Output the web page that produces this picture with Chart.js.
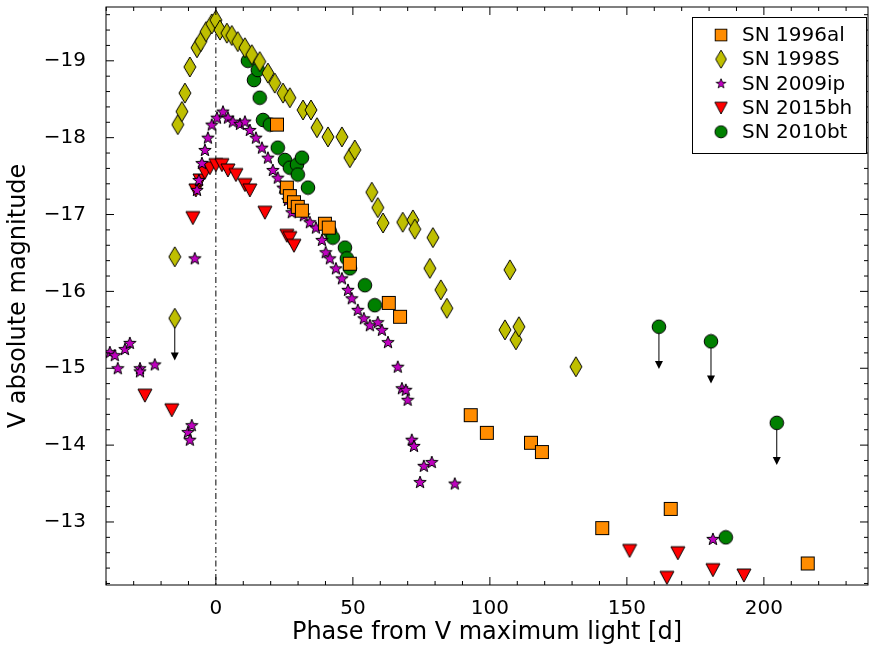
<!DOCTYPE html>
<html>
<head>
<meta charset="utf-8">
<script src="https://cdn.jsdelivr.net/npm/chart.js@4.4.0/dist/chart.umd.min.js"></script>
<style>
  html, body { margin: 0; padding: 0; background: #fff; overflow: hidden; }
  #wrap { width: 870px; height: 651px; overflow: hidden; position: relative; }
  #c { position: absolute; left: 0; top: -17px; }
</style>
</head>
<body>
<div id="wrap"><canvas id="c" width="876" height="668"></canvas></div>
<script>
// phase [d], V absolute magnitude
const sn1996alX = [22.3, 25.9, 27, 28.5, 29.9, 31.4, 39.8, 41.2, 48.9, 63.1, 67.2, 93, 98.9, 115, 119, 141, 166, 216];
const sn1996alY = [-18.17, -17.35, -17.24, -17.16, -17.1, -17.05, -16.88, -16.83, -16.36, -15.85, -15.67, -14.39, -14.16, -14.03, -13.91, -12.92, -13.17, -12.46];

const sn1998sX = [-15, -13.9, -12.4, -11.3, -9.5, -6.9, -5.5, -3.6, -1.5, 0, 1.5, 4, 5.8, 8, 10.6, 13.1, 16, 19, 21.5, 24.5, 27, 31.8, 34.7, 36.9, 40.9, 46, 48.9, 50.7, 56.9, 59.1, 61, 68.2, 71.9, 72.6, 79.2, 78.1, 82.1, 84.3, 105.5, 107.3, 109.5, 110.6, 131.4];
const sn1998sY = [-16.45, -18.17, -18.34, -18.58, -18.92, -19.17, -19.25, -19.38, -19.48, -19.53, -19.4, -19.36, -19.33, -19.25, -19.17, -19.08, -18.99, -18.84, -18.71, -18.58, -18.52, -18.36, -18.36, -18.13, -18.01, -18.01, -17.74, -17.84, -17.29, -17.09, -16.89, -16.9, -16.93, -16.81, -16.7, -16.3, -16.02, -15.78, -15.5, -16.28, -15.37, -15.54, -15.02];
const sn1998sLimX = [-15];
const sn1998sLimY = [-15.65];

const sn2009ipX = [-38.7, -36.9, -35.8, -33.2, -31.4, -27.7, -27.7, -22.3, -10.2, -9.5, -8.8, -7.7, -6.9, -6.2, -5.1, -4, -2.9, -1.5, 0.4, 2.6, 4.4, 6.2, 8.8, 10.6, 12.4, 14.6, 16.8, 19, 20.8, 22.6, 24.5, 26.3, 27.7, 29.2, 32.1, 34.3, 36.5, 38.7, 40.1, 41.6, 43.8, 46, 48.2, 49.6, 51.8, 54, 56.2, 59.1, 60.6, 62.8, 66.4, 67.9, 69.3, 70, 71.5, 72.3, 74.5, 75.9, 78.8, 87.2, 181.4];
const sn2009ipY = [-15.21, -15.17, -15.0, -15.25, -15.33, -15.0, -14.96, -15.05, -14.17, -14.07, -14.26, -16.43, -17.32, -17.45, -17.67, -17.84, -18.0, -18.17, -18.26, -18.34, -18.26, -18.21, -18.18, -18.21, -18.1, -18.0, -17.87, -17.74, -17.58, -17.48, -17.35, -17.19, -17.03, -17.12, -16.99, -16.9, -16.83, -16.67, -16.51, -16.43, -16.3, -16.17, -16.02, -15.91, -15.76, -15.65, -15.56, -15.6, -15.5, -15.34, -15.02, -14.74, -14.72, -14.59, -14.07, -13.99, -13.52, -13.73, -13.78, -13.5, -12.78];

const sn2015bhX = [-25.9, -16.1, -8.4, -7.3, -5.8, -4, -2.2, 0, 2.2, 4.4, 7.3, 10.6, 12.4, 17.9, 25.9, 27, 28.5, 151, 164.6, 168.6, 181.4, 192.7];
const sn2015bhY = [-14.65, -14.46, -16.96, -17.32, -17.45, -17.55, -17.61, -17.65, -17.65, -17.58, -17.52, -17.39, -17.32, -17.03, -16.73, -16.7, -16.6, -12.63, -12.28, -12.6, -12.38, -12.31];

const sn2010btX = [11.7, 13.9, 15.3, 16, 17.2, 19.7, 22.6, 25.2, 27, 29.6, 31.4, 29.9, 33.6, 41.6, 42.7, 47.1, 47.8, 48.9, 54.4, 58, 186.1];
const sn2010btY = [-19.0, -18.75, -18.88, -18.52, -18.23, -18.17, -17.87, -17.71, -17.61, -17.65, -17.74, -17.52, -17.35, -16.78, -16.7, -16.57, -16.43, -16.3, -16.08, -15.82, -12.8];
const sn2010btLimX = [161.7, 180.7, 204.7];
const sn2010btLimY = [-15.54, -15.35, -14.29];

const xTicks = [0, 50, 100, 150, 200];
const yTicks = [-19, -18, -17, -16, -15, -14, -13];
const limitLength = 0.55; // mag, arrow length for upper limits

const FONT = "'DejaVu Sans', sans-serif";

function pts(xs, ys) { return xs.map((x, i) => ({ x: x, y: ys[i] })); }

function marker(w, h, draw) {
  const cv = document.createElement('canvas');
  cv.width = w; cv.height = h;
  const g = cv.getContext('2d');
  g.lineWidth = 1;
  g.strokeStyle = '#000';
  draw(g, w, h);
  return cv;
}
const squareImg = marker(16, 16, (g, w, h) => {
  g.fillStyle = '#ff8c00'; g.fillRect(1.5, 1.5, 13, 13); g.strokeRect(1.5, 1.5, 13, 13);
});
const diamondImg = marker(14, 22, (g, w, h) => {
  g.fillStyle = '#bfbf00';
  g.beginPath(); g.moveTo(7, 1); g.lineTo(13, 11); g.lineTo(7, 21); g.lineTo(1, 11); g.closePath();
  g.fill(); g.stroke();
});
const starImg = marker(14, 14, (g, w, h) => {
  g.fillStyle = '#bf00bf';
  g.beginPath();
  for (let i = 0; i < 10; i++) {
    const r = i % 2 === 0 ? 6.5 : 2.7;
    const a = -Math.PI / 2 + i * Math.PI / 5;
    const px = 7 + r * Math.cos(a), py = 7.5 + r * Math.sin(a);
    i === 0 ? g.moveTo(px, py) : g.lineTo(px, py);
  }
  g.closePath(); g.fill(); g.stroke();
});
const triImg = marker(16, 16, (g, w, h) => {
  g.fillStyle = '#ff0000';
  g.beginPath(); g.moveTo(1, 2); g.lineTo(15, 2); g.lineTo(8, 15); g.closePath();
  g.fill(); g.stroke();
});
const circleImg = marker(16, 16, (g, w, h) => {
  g.fillStyle = '#008000';
  g.beginPath(); g.arc(8, 8, 6.8, 0, Math.PI * 2); g.fill(); g.stroke();
});

const series = [
  { label: 'SN 1996al', data: pts(sn1996alX, sn1996alY), img: squareImg },
  { label: 'SN 1998S', data: pts(sn1998sX, sn1998sY), img: diamondImg },
  { label: 'SN 2009ip', data: pts(sn2009ipX, sn2009ipY), img: starImg },
  { label: 'SN 2015bh', data: pts(sn2015bhX, sn2015bhY), img: triImg },
  { label: 'SN 2010bt', data: pts(sn2010btX, sn2010btY), img: circleImg },
];

const limits = [
  { data: pts(sn1998sLimX, sn1998sLimY), img: diamondImg },
  { data: pts(sn2010btLimX, sn2010btLimY), img: circleImg },
];

// arrows, ticks, frame, zero line, legend
const decor = {
  id: 'decor',
  beforeDatasetsDraw(chart) {
    const { ctx, chartArea: a, scales: { x, y } } = chart;
    ctx.save();
    ctx.strokeStyle = '#000'; ctx.lineWidth = 1;
    ctx.setLineDash([6, 3, 1.5, 3]);
    ctx.beginPath();
    ctx.moveTo(x.getPixelForValue(0), a.top); ctx.lineTo(x.getPixelForValue(0), a.bottom);
    ctx.stroke();
    ctx.setLineDash([]);
    // upper limit arrows
    limits.forEach(l => l.data.forEach(p => {
      const px = x.getPixelForValue(p.x);
      const y0 = y.getPixelForValue(p.y);
      const y1 = y.getPixelForValue(p.y + limitLength);
      ctx.beginPath(); ctx.moveTo(px, y0); ctx.lineTo(px, y1 - 6); ctx.stroke();
      ctx.fillStyle = '#000';
      ctx.beginPath(); ctx.moveTo(px - 4, y1 - 8); ctx.lineTo(px + 4, y1 - 8); ctx.lineTo(px, y1); ctx.closePath(); ctx.fill();
    }));
    ctx.restore();
  },
  afterDraw(chart) {
    const { ctx, chartArea: a, scales: { x, y } } = chart;
    ctx.save();
    ctx.strokeStyle = '#000'; ctx.lineWidth = 1;
    ctx.strokeRect(a.left, a.top, a.right - a.left, a.bottom - a.top);
    ctx.beginPath();
    for (let v = -40; v <= 240; v += 10) {
      const px = x.getPixelForValue(v);
      if (px < a.left || px > a.right) continue;
      const len = v % 50 === 0 ? 8 : 4;
      ctx.moveTo(px, a.bottom); ctx.lineTo(px, a.bottom - len);
      ctx.moveTo(px, a.top); ctx.lineTo(px, a.top + len);
    }
    for (let k = -100; k <= -60; k++) {
      const v = k / 5;
      const py = y.getPixelForValue(v);
      if (py < a.top || py > a.bottom) continue;
      const len = k % 5 === 0 ? 8 : 4;
      ctx.moveTo(a.left, py); ctx.lineTo(a.left + len, py);
      ctx.moveTo(a.right, py); ctx.lineTo(a.right - len, py);
    }
    ctx.stroke();
    // legend (placed relative to the chart area's top-right corner)
    const bw = 174, bh = 136, bx = a.right - 176, by = a.top + 10;
    ctx.fillStyle = '#fff';
    ctx.fillRect(bx, by, bw, bh); ctx.strokeRect(bx + 0.5, by + 0.5, bw, bh);
    ctx.font = '20px ' + FONT; ctx.fillStyle = '#000'; ctx.textBaseline = 'middle';
    series.forEach((s, i) => {
      const cy = by + 18 + i * 24.2;
      const sc = s.img === starImg ? 0.8 : 0.9;
      const w = s.img.width * sc, h = s.img.height * sc;
      ctx.drawImage(s.img, bx + 29 - w / 2, cy - h / 2, w, h);
      ctx.fillText(s.label, bx + 50, cy + 1);
    });
    ctx.restore();
  }
};

new Chart(document.getElementById('c'), {
  type: 'scatter',
  data: {
    datasets: series.map(s => ({ label: s.label, data: s.data, pointStyle: s.img, pointRadius: 7, pointHoverRadius: 7 }))
      .concat(limits.map(l => ({ label: '', data: l.data, pointStyle: l.img, pointRadius: 7 })))
  },
  options: {
    responsive: false,
    animation: false,
    devicePixelRatio: 1,
    layout: { padding: { top: 7, right: 2, left: 0, bottom: 0 } },
    plugins: { legend: { display: false }, tooltip: { enabled: false } },
    scales: {
      x: {
        type: 'linear', min: -40.1, max: 238,
        afterBuildTicks: s => { s.ticks = xTicks.map(v => ({ value: v })); },
        afterFit: s => { s.height = 66; },
        grid: { display: false }, border: { display: false },
        ticks: { color: '#000', font: { family: FONT, size: 20 }, padding: 4, maxRotation: 0 },
        title: { display: true, text: 'Phase from V maximum light [d]', color: '#000', font: { family: FONT, size: 24 }, padding: { top: 0 } }
      },
      y: {
        type: 'linear', min: -19.7, max: -12.18, reverse: true,
        afterBuildTicks: s => { s.ticks = yTicks.map(v => ({ value: v })); },
        afterFit: s => { s.width = 106; },
        grid: { display: false }, border: { display: false },
        ticks: { color: '#000', font: { family: FONT, size: 20 }, padding: 12, callback: v => '\u2212' + Math.abs(v) },
        title: { display: true, text: 'V absolute magnitude', color: '#000', font: { family: FONT, size: 24 }, padding: { bottom: 2 } }
      }
    }
  },
  plugins: [decor]
});
</script>
</body>
</html>
